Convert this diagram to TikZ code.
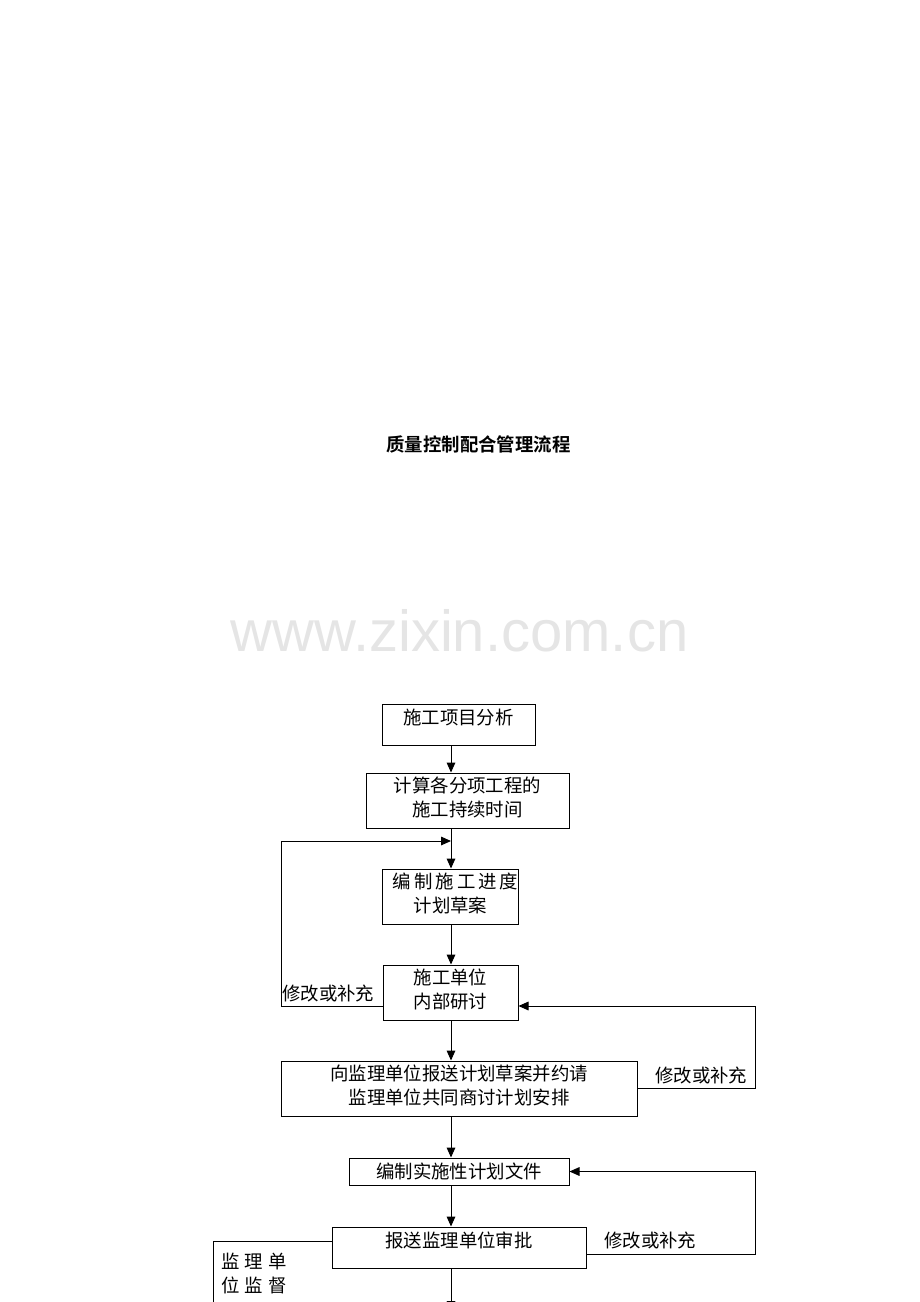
\documentclass[tikz,border=0pt]{standalone}
\usepackage{fontspec}
\setmainfont{Noto Sans CJK SC}[BoldFont={Noto Sans CJK SC Bold}]
\newfontfamily\wmfont{Liberation Sans}
\usetikzlibrary{arrows.meta}
\newcommand{\flowfont}{\fontsize{13.8pt}{18pt}\selectfont}
\begin{document}
\begin{tikzpicture}
        [
            x=0.75pt, y=-0.75pt,
            block/.style={rectangle, draw=black, line width=0.75pt, inner sep=0pt, align=center, font=\flowfont},
            tallblock/.style={block, text height=15pt, text depth=15.75pt},
            twoline/.style={block, minimum height=41.25pt, execute at end node={\rule[-6pt]{0pt}{6pt}}},
            note/.style={inner sep=0pt, font=\flowfont},
            flow/.style={line width=0.75pt, -{Triangle[length=7.5pt, width=6.5pt]}}
        ]
        \useasboundingbox (0,0) rectangle (920,1302);
        % title and watermark
        \node[font=\flowfont\bfseries] (title) at (478.5,444) {质量控制配合管理流程};
        \node[font=\wmfont\fontsize{43.5pt}{50pt}\selectfont, text=black!10, anchor=base] (wm) at (459.5,651) {www.zixin.com.cn};
        % boxes
        \coordinate (spine) at (451,0);
        \node[tallblock, minimum width=114.75pt, minimum height=30.75pt] (b1) at (458.5,724.5) {施工项目分析};
        \node[twoline, minimum width=152.25pt] (b2) at (467.5,800.5) {计算各分项工程的\\施工持续时间};
        \node[twoline, minimum width=101.25pt] (b3) at (450.5,896.5) {\hspace*{7.5pt}编\,制\,施\,工\,进\,度\\计划草案};
        \node[twoline, minimum width=101.25pt] (b4) at (450.5,992.5) {施工单位\\内部研讨};
        \node[twoline, minimum width=267pt] (b5) at (459,1088.5) {向监理单位报送计划草案并约请\\监理单位共同商讨计划安排};
        \node[block, minimum width=165pt, minimum height=20.25pt] (b6) at (459,1171.5) {编制实施性计划文件};
        \node[tallblock, minimum width=190.5pt, minimum height=30.75pt] (b7) at (459,1247.5) {报送监理单位审批};
        % main flow
        \draw[flow] (b1.south -| spine) -- (b2.north -| spine);
        \draw[flow] (b2.south -| spine) -- (b3.north -| spine);
        \draw[flow] (b3.south -| spine) -- (b4.north -| spine);
        \draw[flow] (b4.south -| spine) -- (b5.north -| spine);
        \draw[flow] (b5.south -| spine) -- (b6.north -| spine);
        \draw[flow] (b6.south -| spine) -- (b7.north -| spine);
        \coordinate (next) at (451,1311);
        \draw[flow] (b7.south -| spine) -- (next);
        % feedback loops
        \coordinate (fbA) at (281,841);
        \coordinate (fbB) at (755,1006);
        \coordinate (fbC) at (755,1171.5);
        \draw[flow] (b4.west |- fbB) -| (fbA) -- (fbA -| spine);
        \draw[flow] (b5.east) -| (fbB) -- (b4.east |- fbB);
        \draw[flow] (b7.east |- 0,1254) -| (fbC) -- (b6.east);
        \node[note, anchor=west] (mod1) at (282,993) {修改或补充};
        \node[note, anchor=west] (mod2) at (655,1075) {修改或补充};
        \node[note, anchor=west] (mod3) at (604,1240) {修改或补充};
        % supervision
        \coordinate (sv) at (213,1241);
        \coordinate (svend) at (213,1320);
        \draw[line width=0.75pt] (b7.west |- sv) -- (sv) -- (svend);
        \node[note, anchor=west, align=left] (sup) at (221,1274) {监\hspace{3.75pt}理\hspace{3.75pt}单\\位\hspace{3.75pt}监\hspace{3.75pt}督};
    \end{tikzpicture}
\end{document}
